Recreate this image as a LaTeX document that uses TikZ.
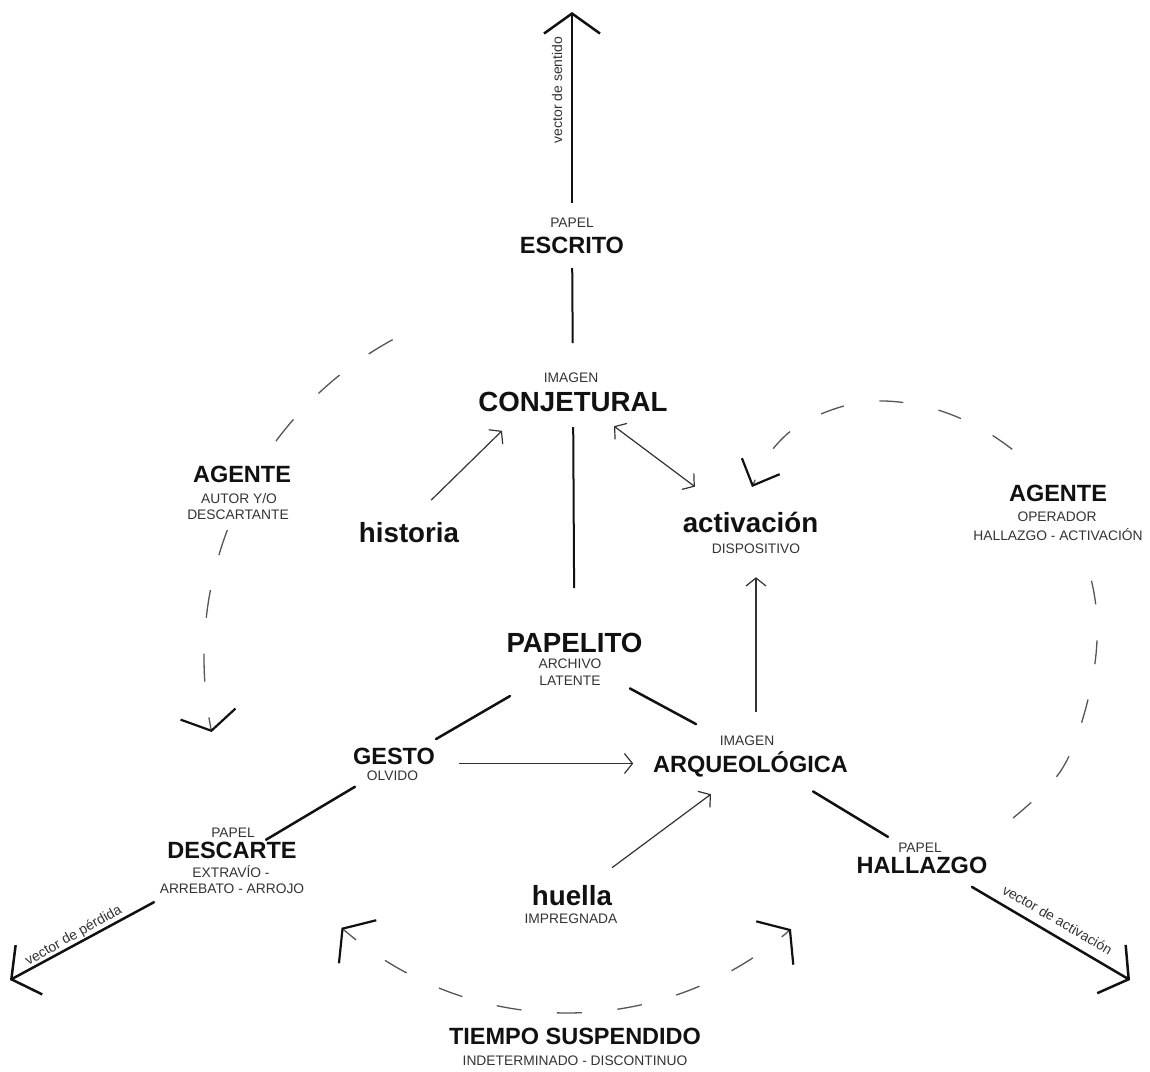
\documentclass[tikz,border=0pt]{standalone}
\usepackage{fontspec}
\setmainfont{Liberation Sans}
\usetikzlibrary{arrows.meta,fit}
\definecolor{ink}{HTML}{111111}
\definecolor{soft}{HTML}{333333}
\definecolor{dashc}{HTML}{555555}
\pgfdeclarelayer{bg}
\pgfsetlayers{bg,main}
\tikzset{
  bigA/.style={font=\fontsize{23.5pt}{28pt}\selectfont\bfseries, text=ink, inner sep=0pt, text height=17pt, text depth=0pt, anchor=base},
  bigB/.style={font=\fontsize{27.7pt}{32pt}\selectfont\bfseries, text=ink, inner sep=0pt, text height=20pt, text depth=0pt, anchor=base},
  sublabel/.style={font=\fontsize{13.8pt}{16pt}\selectfont, text=soft, inner sep=0pt, text height=10pt, text depth=0pt, anchor=base},
  vlab/.style={font=\fontsize{14pt}{16pt}\selectfont, text=soft, inner sep=0pt, anchor=base},
  cover/.style={fill=white, draw=none},
  grp/.style={inner sep=0pt, draw=none},
  heavy/.style={line width=2.5pt, draw=ink, line cap=round},
  stem/.style={line width=2pt, draw=ink},
  fineline/.style={line width=1.2pt, draw=soft},
  onearrow/.style={-{Straight Barb[length=8pt,width=20pt,line width=1.2pt]}},
  twoarrow/.style={{Straight Barb[length=8pt,width=20pt,line width=1.2pt]}-{Straight Barb[length=8pt,width=20pt,line width=1.2pt]}},
  bigtip/.style={-{Straight Barb[length=20pt,width=56pt,line width=2.5pt]}},
  arcline/.style={line width=1.3pt, draw=dashc},
}
\begin{document}
\begin{tikzpicture}[x=1pt,y=-1pt]
\useasboundingbox (0,0) rectangle (1150,1071);

% text nodes
\node[sublabel] (papelEsc) at (572,227) {PAPEL};
\node[bigA] (escrito) at (572,253) {ESCRITO};
\node[sublabel] (imagenConj) at (571,382) {IMAGEN};
\node[bigB] (conjetural) at (573,411) {CONJETURAL};
\node[bigB] (historia) at (409,542) {historia};
\node[bigB] (activacion) at (750.5,532) {activación};
\node[sublabel] (dispositivo) at (756,553) {DISPOSITIVO};

\node[bigA] (agenteL) at (242,482) {AGENTE};
\node[sublabel] (autorL) at (239,503) {AUTOR Y/O};
\node[sublabel] (descartante) at (238,519) {DESCARTANTE};

\node[bigA] (agenteR) at (1058,501) {AGENTE};
\node[sublabel] (operador) at (1057,521) {OPERADOR};
\node[sublabel] (hallAct) at (1058,540) {HALLAZGO - ACTIVACIÓN};

\node[bigB] (papelito) at (574.5,652) {PAPELITO};
\node[sublabel] (archivo) at (570,668) {ARCHIVO};
\node[sublabel] (latente) at (570,685) {LATENTE};

\node[bigA] (gesto) at (394,764) {GESTO};
\node[sublabel] (olvido) at (392.5,780) {OLVIDO};

\node[sublabel] (imagenArq) at (747,745) {IMAGEN};
\node[bigA] (arqueologica) at (750.5,772) {ARQUEOLÓGICA};

\node[sublabel] (papelDesc) at (233,837) {PAPEL};
\node[bigA] (descarte) at (232,858) {DESCARTE};
\node[sublabel] (extravio) at (231,877) {EXTRAVÍO -};
\node[sublabel] (arrebato) at (232,893) {ARREBATO - ARROJO};

\node[sublabel] (papelHall) at (920,852) {PAPEL};
\node[bigA] (hallazgo) at (922,873) {HALLAZGO};

\node[bigB] (huella) at (572,905) {huella};
\node[sublabel] (impregnada) at (571,923) {IMPREGNADA};

\node[bigA] (tiempo) at (575,1044) {TIEMPO SUSPENDIDO};
\node[sublabel] (indet) at (575,1065) {INDETERMINADO - DISCONTINUO};

% groups
\node[grp, fit=(papelEsc)(escrito)] (escBlock) {};
\node[grp, fit=(imagenConj)(conjetural)] (conjBlock) {};
\node[grp, fit=(papelito)(archivo)(latente)] (papBlock) {};
\node[grp, fit=(gesto)(olvido)] (gestoBlock) {};
\node[grp, fit=(imagenArq)(arqueologica)] (arqBlock) {};
\node[grp, fit=(papelDesc)(descarte)(extravio)(arrebato)] (descBlock) {};
\node[grp, fit=(papelHall)(hallazgo)] (hallBlock) {};

% dashed cycles behind the agent labels
\begin{pgfonlayer}{bg}
\draw[arcline, dash pattern=on 28pt off 36pt,
      -{Straight Barb[length=17pt,width=56pt,line width=2.2pt,color=ink]}]
  plot[domain=0:1, samples=90, variable=\t]
  ({567+363*cos(241.3-73.1*\t)}, {658+363*sin(241.3-73.1*\t)});

\draw[arcline, dash pattern=on 24pt off 36pt,
      -{Straight Barb[length=21pt,width=41pt,line width=2.2pt,color=ink]}]
  plot[smooth, tension=0.6] coordinates {(1013,818) (1060,772) (1085,711) (1097,640) (1090,575) (1062,510) (1030,465) (980,428) (923,406) (863,402) (806,421) (772,450) (752,487)};

\draw[arcline, dash pattern=on 25pt off 35.6pt, dash phase=8.6pt,
      {Straight Barb[length=20pt,width=57pt,line width=2.2pt,color=ink]}-{Straight Barb[length=20pt,width=57pt,line width=2.2pt,color=ink]}]
  plot[domain=0:1, samples=90, variable=\t]
  ({567+341*cos(131.4-82.5*\t)}, {672+341*sin(131.4-82.5*\t)});

\node[cover, fit=(agenteL)(autorL)(descartante), inner xsep=6pt, inner ysep=11pt] (agLcover) {};
\node[cover, fit=(agenteR)(operador)(hallAct), inner xsep=6pt, inner ysep=12pt] (agRcover) {};
\end{pgfonlayer}

% free ends
\coordinate (topTip) at (572,12);
\coordinate (lossTip) at (10,980);
\coordinate (actTip) at (1130,980);

% vector labels
\node[vlab, rotate=90] (sentido) at (562,90) {vector de sentido};
\node[vlab, rotate=29.5] (perdida) at (75.5,939) {vector de pérdida};
\node[vlab, rotate=-30] (activLab) at (1055,924) {vector de activación};

% main axis
\draw[stem, bigtip, shorten <=32pt] (escBlock.center) -- (topTip);
\draw[stem, shorten <=33pt, shorten >=48.5pt] (escBlock.center) -- (conjBlock.center);
\draw[stem, shorten <=35.5pt, shorten >=70.5pt] (conjBlock.center) -- (papBlock.center);

% triangle
\draw[heavy, shorten <=74.6pt, shorten >=48.6pt] (papBlock.center) -- (gestoBlock.center);
\draw[heavy, shorten <=63pt, shorten >=62pt] (papBlock.center) -- (arqBlock.center);
\draw[heavy, shorten <=45.4pt, shorten >=39.6pt] (gestoBlock.center) -- (descBlock.center);
\draw[heavy, bigtip, shorten <=88.7pt] (descBlock.center) -- (lossTip);
\draw[heavy, shorten <=73.1pt, shorten >=39.8pt] (arqBlock.center) -- (hallBlock.center);
\draw[heavy, bigtip, shorten <=58pt] (hallBlock.center) -- (actTip);

% thin arrows
\draw[fineline, onearrow, shorten <=24pt, shorten >=19.6pt] (gestoBlock.east) -- (gestoBlock.east -| arqBlock.west);
\draw[fineline, onearrow, shorten <=31pt, shorten >=28pt] (historia.north) -- ([xshift=-51pt]conjetural.south);
\draw[fineline, twoarrow, shorten <=25pt, shorten >=42pt] ([xshift=21pt]conjetural.south) -- ([xshift=-22pt]activacion.north);
\draw[fineline, onearrow, shorten <=23pt, shorten >=24pt] (arqBlock.north -| dispositivo.center) -- (dispositivo.south);
\draw[fineline, onearrow, shorten <=28.7pt, shorten >=36.8pt] ([xshift=17pt]huella.north) -- ([xshift=-10pt]arqueologica.south);
\end{tikzpicture}
\end{document}
